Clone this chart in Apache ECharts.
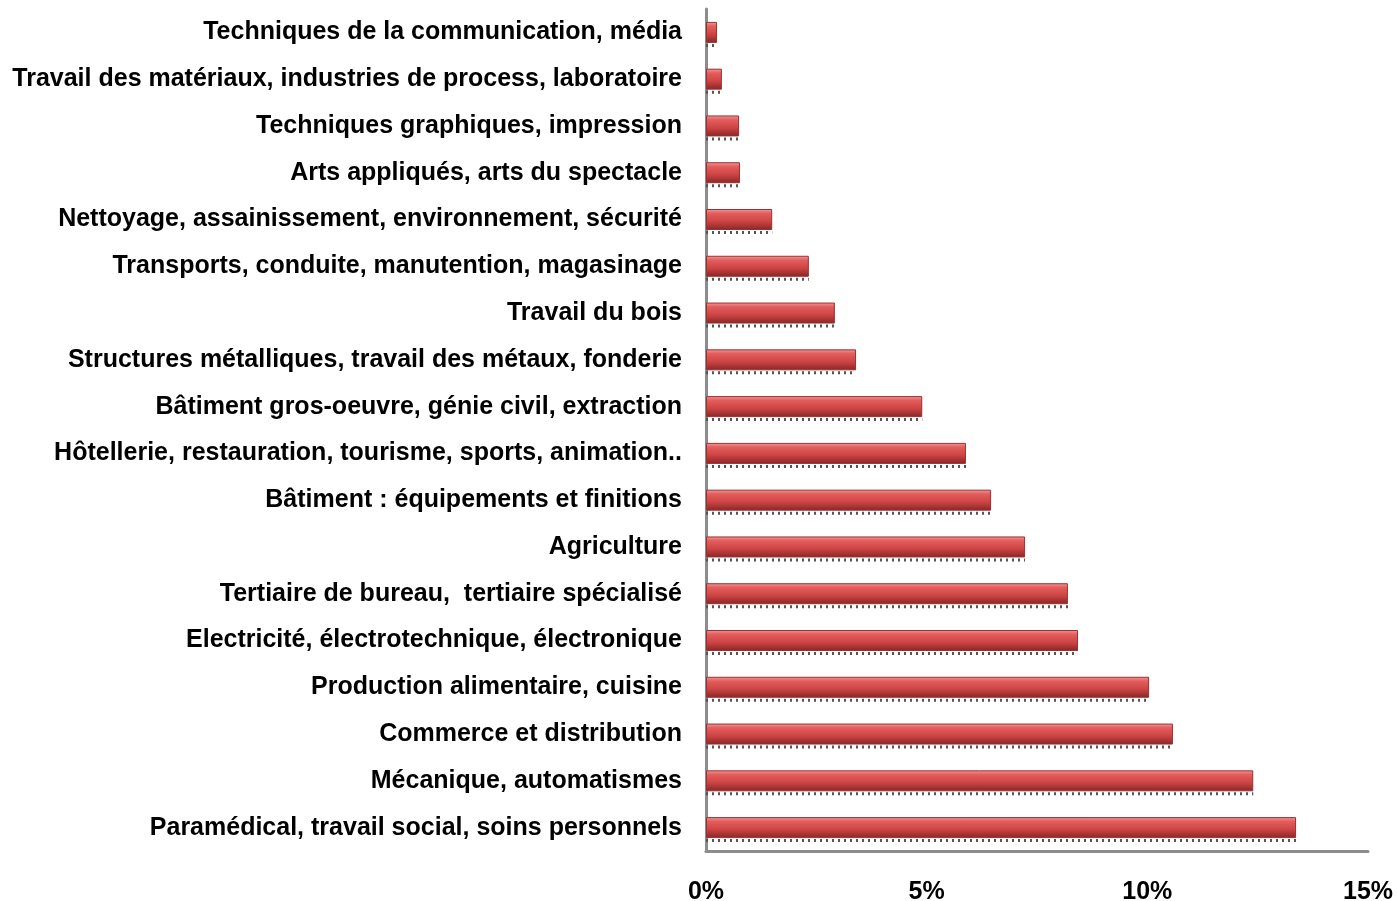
<!DOCTYPE html>
<html>
<head>
<meta charset="utf-8">
<script src="https://cdn.jsdelivr.net/npm/echarts@6/dist/echarts.min.js"></script>
<style>
  html, body { margin: 0; padding: 0; background: #fff; }
  #chart { width: 1397px; height: 901px; }
</style>
</head>
<body>
<div id="chart"></div>
<script>
// catégories (du bas vers le haut)
const categories = [
  'Paramédical, travail social, soins personnels',
  'Mécanique, automatismes',
  'Commerce et distribution',
  'Production alimentaire, cuisine',
  'Electricité, électrotechnique, électronique',
  'Tertiaire de bureau,  tertiaire spécialisé',
  'Agriculture',
  'Bâtiment : équipements et finitions',
  'Hôtellerie, restauration, tourisme, sports, animation..',
  'Bâtiment gros-oeuvre, génie civil, extraction',
  'Structures métalliques, travail des métaux, fonderie',
  'Travail du bois',
  'Transports, conduite, manutention, magasinage',
  'Nettoyage, assainissement, environnement, sécurité',
  'Arts appliqués, arts du spectacle',
  'Techniques graphiques, impression',
  'Travail des matériaux, industries de process, laboratoire',
  'Techniques de la communication, média'
];

// parts en %
const shares = [13.37, 12.4, 10.58, 10.04, 8.43, 8.2, 7.23, 6.46, 5.89, 4.9, 3.4, 2.92, 2.33, 1.5, 0.77, 0.75, 0.36, 0.25];

const axisMin = 0;
const axisMax = 15;
const axisStep = 5;

const chart = echarts.init(document.getElementById('chart'));

const labelFont = '"Liberation Sans", Arial, sans-serif';

const option = {
  animation: false,
  grid: {
    left: 706,
    right: 29,
    top: 9,
    bottom: 50,
    containLabel: false,
    outerBoundsMode: 'none'
  },
  xAxis: {
    type: 'value',
    min: axisMin,
    max: axisMax,
    interval: axisStep,
    axisLine: { show: true, lineStyle: { color: '#8c8c8c', width: 3 } },
    axisTick: { show: false },
    splitLine: { show: false },
    axisLabel: {
      margin: 29,
      color: '#000',
      fontFamily: labelFont,
      fontWeight: 'bold',
      fontSize: 25,
      formatter: v => v + '%'
    }
  },
  yAxis: {
    type: 'category',
    data: categories,
    axisLine: { show: true, onZero: false, lineStyle: { color: '#8c8c8c', width: 3 } },
    axisTick: { show: false },
    axisLabel: {
      margin: 24,
      color: '#000',
      fontFamily: labelFont,
      fontWeight: 'bold',
      fontSize: 25
    }
  },
  series: [
    {
      // pointillés d'ombre sous les barres
      type: 'pictorialBar',
      data: shares,
      symbol: 'rect',
      symbolSize: [2, 3],
      symbolRepeat: true,
      symbolMargin: 2,
      symbolOffset: [0, 13],
      symbolClip: true,
      barGap: '-100%',
      barWidth: 20,
      itemStyle: { color: '#555' },
      z: 1
    },
    {
      type: 'bar',
      data: shares,
      barWidth: 21,
      barGap: '-100%',
      itemStyle: {
        color: new echarts.graphic.LinearGradient(0, 0, 0, 1, [
          { offset: 0, color: '#f29a9a' },
          { offset: 0.2, color: '#e45e5e' },
          { offset: 0.6, color: '#cc4343' },
          { offset: 1, color: '#862626' }
        ]),
        borderColor: '#9a3030',
        borderWidth: 1
      },
      z: 2
    }
  ]
};

chart.setOption(option);
</script>
</body>
</html>
